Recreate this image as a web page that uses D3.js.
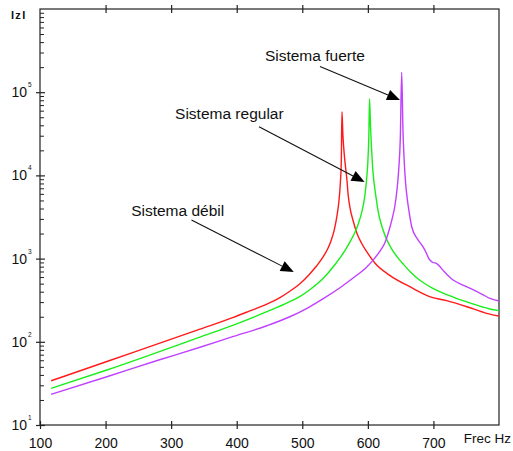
<!DOCTYPE html>
<html>
<head>
<meta charset="utf-8">
<script src="https://cdn.jsdelivr.net/npm/d3@7"></script>
<style>
	body { margin: 0; background: #fff; }
	text { font-family: "Liberation Sans", Arial, sans-serif; fill: #111; }
</style>
</head>
<body>
<svg id="chart" width="513" height="451"></svg>
<script>

// frequency (Hz) and |Z|, one pair of lists per curve
var freqDebil = [117, 202, 344, 395, 420, 446, 466, 481, 496, 511, 522, 532, 539, 544, 549, 553, 556, 558, 559.5, 560.5,
	562, 564, 566, 568, 570, 573, 577, 583, 590, 598, 611, 634, 664, 694, 720, 751, 781, 800]
var zDebil = [34, 58, 142, 197, 235, 283, 340, 405, 495, 650, 820, 1055, 1320, 1650, 2250, 3300, 5000, 8000, 15000, 58300,
	30000, 18000, 12500, 9000, 5800, 4000, 2950, 2050, 1550, 1220, 879, 625, 459, 350, 312, 264, 220, 204]

var freqRegular = [117, 202, 344, 395, 446, 481, 496, 511, 532, 550, 563, 573, 580, 586, 591, 595, 598, 600, 601.5, 602.6,
	604, 605.5, 607, 609, 612, 616, 621, 628, 636, 645, 655, 665, 675, 686, 697, 713, 730, 745, 761, 775, 786, 800]
var zRegular = [27.6, 45.8, 114, 159, 230, 303, 350, 420, 580, 850, 1180, 1600, 2050, 2700, 3700, 5400, 8800, 14500, 30000, 82800,
	40000, 22000, 13500, 8800, 5800, 3600, 2500, 1750, 1320, 1040, 840, 690, 585, 505, 448, 390, 345, 312, 284, 262, 248, 237]

var freqFuerte = [117, 202, 280, 344, 395, 446, 481, 510, 532, 558, 583, 596, 608, 619, 626, 632, 637, 641, 644.5, 647, 649.5, 651.6,
	653.5, 655.5, 657.5, 660, 663, 667, 676, 684, 690, 693, 698, 705, 717, 730, 745, 761, 775, 786, 800]
var zFuerte = [23.4, 38, 60, 86, 116, 156, 200, 260, 330, 450, 630, 760, 960, 1250, 1550, 2150, 3000, 4200, 6800, 11500, 28000, 173000,
	36000, 14500, 8200, 5300, 3600, 2400, 1700, 1390, 1130, 1000, 910, 870, 690, 553, 480, 420, 370, 333, 309]

var seriesNames = ['Sistema débil', 'Sistema regular', 'Sistema fuerte']
var seriesColors = ['#ff1a1a', '#1aee1a', '#c040ff']

var xTicks = [100, 200, 300, 400, 500, 600, 700]
var xTopTicks = [200, 300, 400, 500, 600, 700]
var yMajor = [10, 100, 1000, 10000, 100000]

// annotations: label position, arrow start, arrow tip (freq, |Z|)
var labelPos = [[239, 3250], [306, 47200], [443, 237000]]
var arrowFrom = [[331, 2910], [434, 38500], [527, 203000]]
var arrowTo = [[487, 690], [595, 8340], [649, 80500]]

var svg = d3.select('#chart')

var x = d3.scaleLinear().domain([100, 800]).range([40, 499])
var y = d3.scaleLog().domain([10, 1e6]).range([425, 9])

// minor ticks 2..9 for every decade
var yMinor = []
for (i = 1; i < 6; i++) {
	for (k = 2; k < 10; k++) {
		yMinor.push(k * Math.pow(10, i))
	}
}

// frame
svg.append('rect')
	.attr('x', 40)
	.attr('y', 9)
	.attr('width', 459)
	.attr('height', 416)
	.attr('fill', 'none')
	.attr('stroke', '#222')
	.attr('stroke-width', 1.2)

// bottom axis
var xAxisG = svg.append('g')
	.attr('transform', 'translate(0,425)')
	.call(d3.axisBottom(x).tickValues(xTicks).tickSize(4).tickPadding(9))
xAxisG.select('.domain').remove()
xAxisG.selectAll('.tick line').attr('y1', -4).attr('stroke', '#222').attr('stroke-width', 1.2)
xAxisG.selectAll('.tick text').attr('font-size', 14).attr('font-family', '"Liberation Sans", Arial, sans-serif')

// top ticks
var xTopG = svg.append('g')
	.attr('transform', 'translate(0,9)')
	.call(d3.axisTop(x).tickValues(xTopTicks).tickSize(4).tickFormat(''))
xTopG.select('.domain').remove()
xTopG.selectAll('.tick line').attr('y1', 4).attr('stroke', '#222').attr('stroke-width', 1.2)

svg.append('text')
	.attr('x', 511)
	.attr('y', 443)
	.attr('text-anchor', 'end')
	.attr('font-size', 13.5)
	.text('Frec Hz')

// left axis, majors cross the line
var yAxisG = svg.append('g')
	.attr('transform', 'translate(40,0)')
	.call(d3.axisLeft(y).tickValues(yMajor).tickSize(4))
yAxisG.select('.domain').remove()
yAxisG.selectAll('.tick line').attr('x1', 5).attr('stroke', '#222').attr('stroke-width', 1.2)
yAxisG.selectAll('.tick text')
	.text(null)
	.attr('x', -8.5)
	.attr('dy', 4.5)
	.attr('font-size', 14)
	.attr('font-family', '"Liberation Sans", Arial, sans-serif')
	.each(function(d) {
		var t = d3.select(this)
		t.append('tspan').text('10')
		t.append('tspan').attr('dy', -10).attr('dx', 0.8).attr('font-size', 6.5).text(Math.round(Math.log10(d)))
	})

var yMinorG = svg.append('g')
	.attr('transform', 'translate(40,0)')
	.call(d3.axisRight(y).tickValues(yMinor).tickSize(4).tickFormat(''))
yMinorG.select('.domain').remove()
yMinorG.selectAll('.tick line').attr('stroke', '#222').attr('stroke-width', 1)

svg.append('text')
	.attr('x', 11)
	.attr('y', 18.5)
	.attr('font-size', 11)
	.attr('font-weight', 'bold')
	.attr('letter-spacing', 1.3)
	.text('IzI')

// curves
var allFreq = [freqDebil, freqRegular, freqFuerte]
var allZ = [zDebil, zRegular, zFuerte]

var line = d3.line()
	.x(function(d) { return x(d[0]); })
	.y(function(d) { return y(d[1]); })
	.curve(d3.curveMonotoneX)

for (s = 0; s < 3; s++) {
	var pts = d3.zip(allFreq[s], allZ[s])
	svg.append('path')
		.attr('class', 'curve')
		.attr('d', line(pts))
		.attr('fill', 'none')
		.attr('stroke', seriesColors[s])
		.attr('stroke-width', 1.4)
}

// labels and arrows
for (s = 0; s < 3; s++) {
	svg.append('text')
		.attr('x', x(labelPos[s][0]))
		.attr('y', y(labelPos[s][1]))
		.attr('font-size', 15.5)
		.text(seriesNames[s])

	var x0 = x(arrowFrom[s][0]), y0 = y(arrowFrom[s][1])
	var x1 = x(arrowTo[s][0]), y1 = y(arrowTo[s][1])
	var len = Math.sqrt((x1 - x0) * (x1 - x0) + (y1 - y0) * (y1 - y0))
	var ux = (x1 - x0) / len, uy = (y1 - y0) / len
	var bx = x1 - ux * 13, by = y1 - uy * 13

	svg.append('line')
		.attr('x1', x0).attr('y1', y0)
		.attr('x2', bx).attr('y2', by)
		.attr('stroke', '#111')
		.attr('stroke-width', 1.1)

	svg.append('path')
		.attr('d', 'M' + x1 + ',' + y1 +
			'L' + (bx - uy * 5.5) + ',' + (by + ux * 5.5) +
			'L' + (bx + uy * 5.5) + ',' + (by - ux * 5.5) + 'Z')
		.attr('fill', '#000')
}

</script>
</body>
</html>
